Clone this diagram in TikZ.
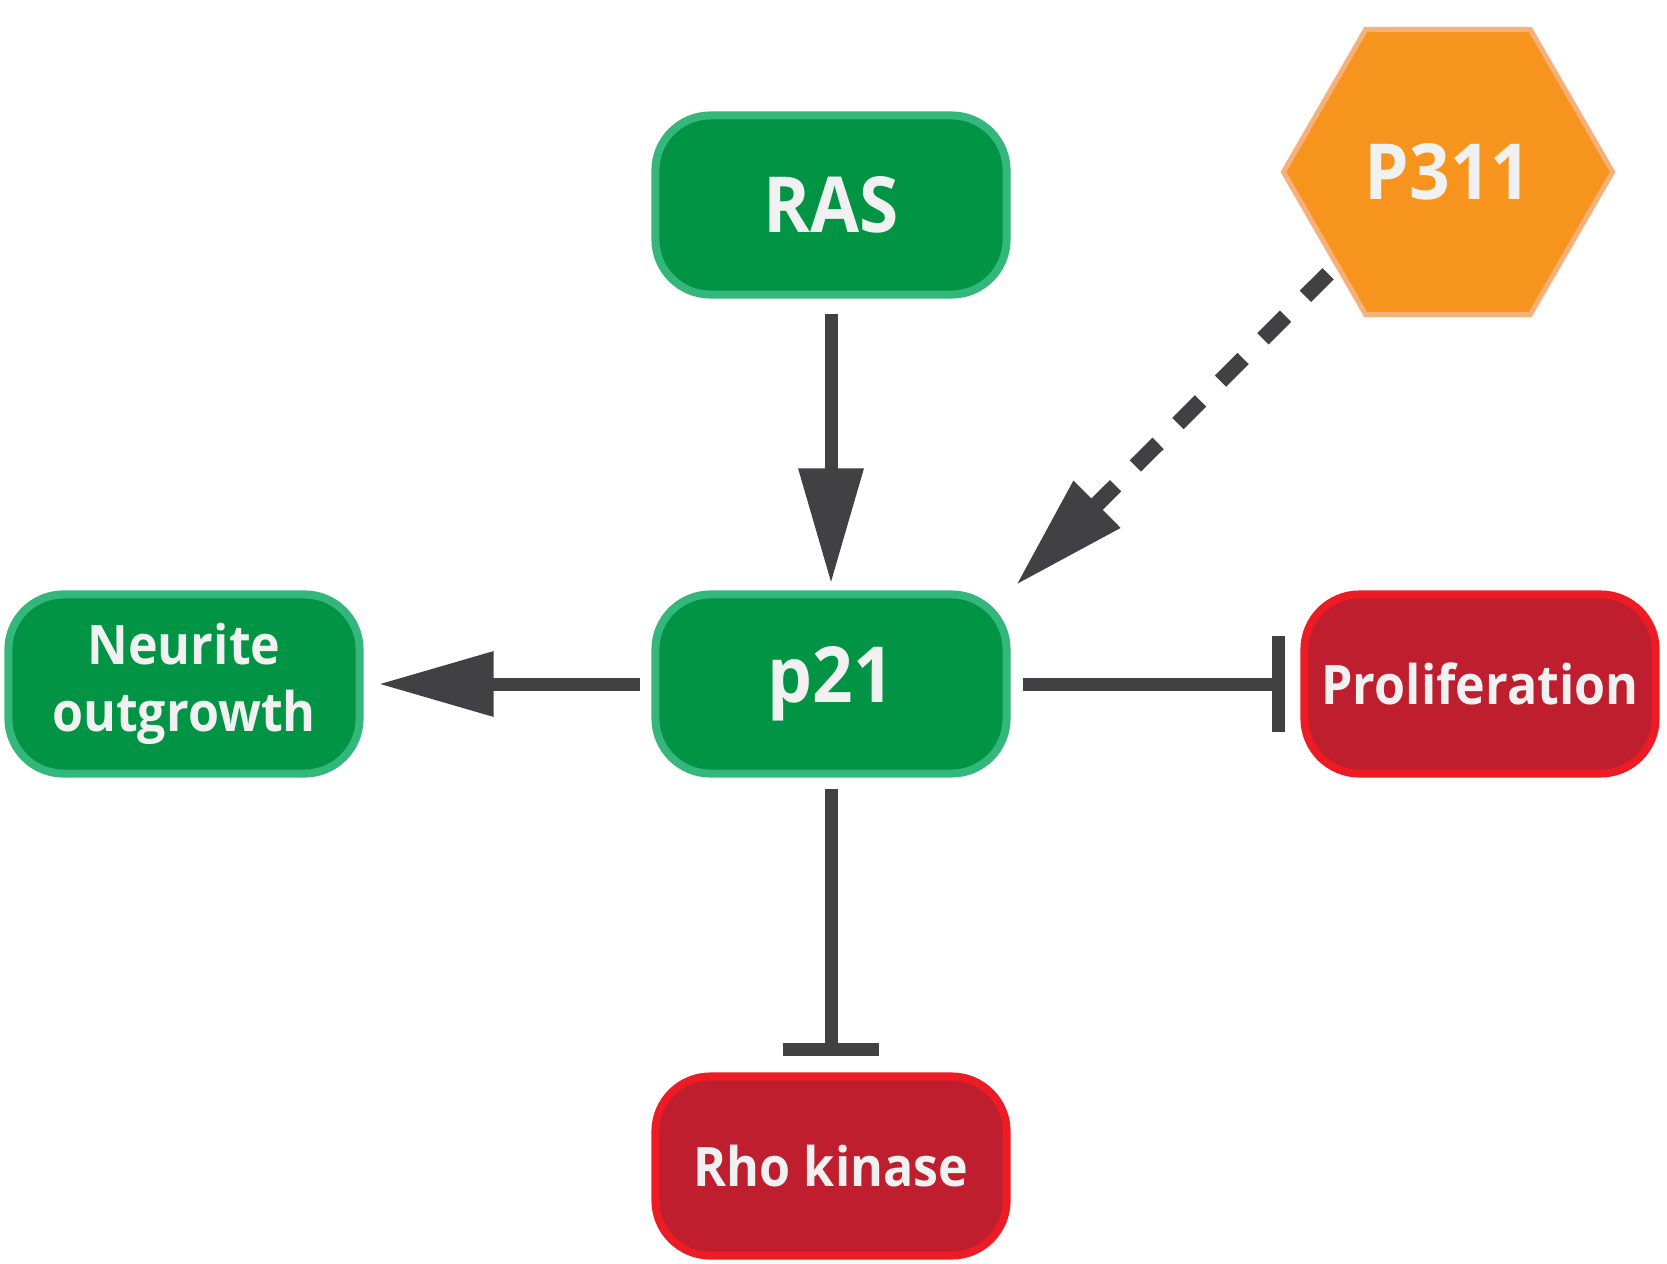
\documentclass[tikz,border=0pt]{standalone}
\usepackage{fontspec}
\setmainfont{Open Sans}[FakeStretch=0.92]
\usetikzlibrary{arrows.meta,shapes.geometric}
\definecolor{boxgreen}{HTML}{009444}
\definecolor{rimgreen}{HTML}{34B77A}
\definecolor{boxred}{HTML}{BE1E2D}
\definecolor{rimred}{HTML}{ED1C24}
\definecolor{hexorange}{HTML}{F7941D}
\definecolor{rimorange}{HTML}{F8B07A}
\definecolor{linegray}{HTML}{414042}
\definecolor{labelwhite}{HTML}{F1F1F2}

\begin{document}
\begin{tikzpicture}[x=0.01cm, y=-0.01cm,
    box/.style={rounded corners=0.55cm, line width=0.08cm, minimum width=3.51cm,
        minimum height=1.79cm, outer sep=0.04cm, align=center, text=labelwhite},
    goodbox/.style={box, fill=boxgreen, draw=rimgreen},
    badbox/.style={box, fill=boxred, draw=rimred},
    big/.style={font=\fontsize{22}{25}\selectfont\bfseries},
    small/.style={font=\fontsize{15.5}{19}\selectfont\bfseries},
    link/.style={draw=linegray, line width=0.13cm},
    act/.style={link, -{Triangle[length=1.15cm, width=0.62cm]}},
    block/.style={link, -{Bar[width=0.96cm]}}]
    \useasboundingbox (0,0) rectangle (1667,1264);

    \node[goodbox, big] (RAS) at (831,205) {RAS};
    \node[goodbox, big] (p21) at (831,684) {p21};
    \node[goodbox, small] (neurite) at (184,684) {Neurite\\outgrowth};
    \node[badbox, small] (prolif) at (1480,684) {Proliferation};
    \node[badbox, small] (rho) at (831,1166) {Rho kinase};
    \node[regular polygon, regular polygon sides=6, minimum size=3.29cm, inner sep=0pt,
        fill=hexorange, draw=rimorange, line width=0.05cm, text=labelwhite, big] (P311) at (1448,172) {P311};

    \draw[act, shorten <=0.15cm, shorten >=0.07cm] (RAS) -- (p21);
    \draw[act, shorten <=0.11cm, shorten >=0.15cm] (p21) -- (neurite);
    \draw[block, shorten <=0.12cm, shorten >=0.15cm] (p21) -- (prolif);
    \draw[block, shorten <=0.11cm, shorten >=0.16cm] (p21) -- (rho);
    \draw[act, line width=0.16cm, dash pattern=on 0.32cm off 0.28cm, shorten <=0.1cm, shorten >=0.07cm] (P311.220) -- (p21.north east);
\end{tikzpicture}
\end{document}
